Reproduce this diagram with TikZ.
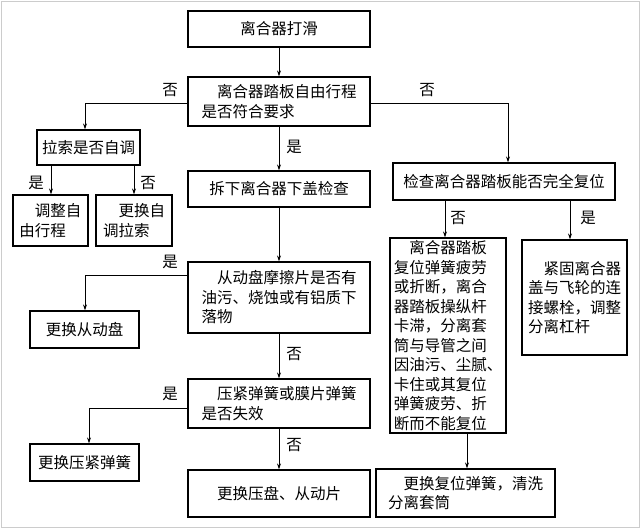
\documentclass[tikz,border=0pt]{standalone}
\usepackage{fontspec}
\newfontfamily\cjk{Noto Sans CJK SC}
\usetikzlibrary{arrows.meta}
\begin{document}
\begin{tikzpicture}[x=1pt,y=-1pt,
  box/.style={draw,line width=1.3pt,inner sep=1pt,font=\cjk\fontsize{15.5}{19.5}\selectfont,align=left},
  lab/.style={font=\cjk\fontsize{15.5}{17}\selectfont},
  arr/.style={-{Stealth[length=6pt,width=4pt]},line width=0.8pt}]
\useasboundingbox (0,0) rectangle (640,528);
\draw[gray!40,line width=1pt] (1,1) rectangle (639,527);
\newcommand{\ind}{\hspace*{1em}}
\newcommand{\bx}[6]{\node[box,minimum width=#3-#2,minimum height=#5-#4] (#1) at ({(#2+#3)/2},{(#4+#5)/2}) {#6};}
\bx{a}{188}{370}{11}{47}{离合器打滑}
\bx{b}{188}{370}{77}{126}{\ind 离合器踏板自由行程\\是否符合要求}
\bx{c}{37}{140}{130}{165}{拉索是否自调}
\bx{d}{13}{88}{195}{246}{\ind 调整自\\由行程}
\bx{e}{96}{172}{195}{246}{\ind 更换自\\调拉索}
\bx{f}{188}{370}{171}{207}{拆下离合器下盖检查}
\bx{g}{393}{615}{163}{200}{检查离合器踏板能否完全复位}
\bx{h}{188}{370}{262}{333}{\ind 从动盘摩擦片是否有\\油污、烧蚀或有铝质下\\落物}
\bx{i}{30}{139}{311}{348}{更换从动盘}
\bx{j}{188}{370}{379}{428}{\ind 压紧弹簧或膜片弹簧\\是否失效}
\bx{k}{30}{139}{444}{481}{更换压紧弹簧}
\bx{l}{188}{370}{470}{517}{更换压盘、从动片}
\bx{m}{390}{506}{238}{433}{\ind 离合器踏板\\复位弹簧疲劳\\或折断，离合\\器踏板操纵杆\\卡滞，分离套\\筒与导管之间\\因油污、尘腻、\\卡住或其复位\\弹簧疲劳、折\\断而不能复位}
\bx{n}{522}{627}{240}{355}{\ind 紧固离合器\\盖与飞轮的连\\接螺栓，调整\\分离杠杆}
\bx{o}{376}{555}{469}{517}{\ind 更换复位弹簧，清洗\\分离套筒}
\draw[arr] (a) -- (b);
\draw[arr] (b.west|-0,103) -| (c.north-|85,0);
\draw[arr] (b.east|-0,103) -| (g.north-|508,0);
\draw[arr] (c.south-|51,0) -- (d.north-|51,0);
\draw[arr] (c.south-|134,0) -- (e.north-|134,0);
\draw[arr] (b) -- (f);
\draw[arr] (f) -- (h);
\draw[arr] (h.west|-0,275) -| (i.north-|85,0);
\draw[arr] (h) -- (j);
\draw[arr] (j.west|-0,408) -| (k.north-|89,0);
\draw[arr] (j) -- (l);
\draw[arr] (g.south-|445,0) -- (m.north-|445,0);
\draw[arr] (g.south-|570,0) -- (n.north-|570,0);
\draw[arr] (m.south-|467,0) -- (o.north-|467,0);
\node[lab] (l1) at (170,90) {否};
\node[lab] (l2) at (427,90) {否};
\node[lab] (l3) at (36,183) {是};
\node[lab] (l4) at (148,183) {否};
\node[lab] (l5) at (294,147) {是};
\node[lab] (l6) at (170,262) {是};
\node[lab] (l7) at (294,354) {否};
\node[lab] (l8) at (170,394) {是};
\node[lab] (l9) at (294,445) {否};
\node[lab] (l10) at (458,218) {否};
\node[lab] (l11) at (588,218) {是};
\end{tikzpicture}
\end{document}
